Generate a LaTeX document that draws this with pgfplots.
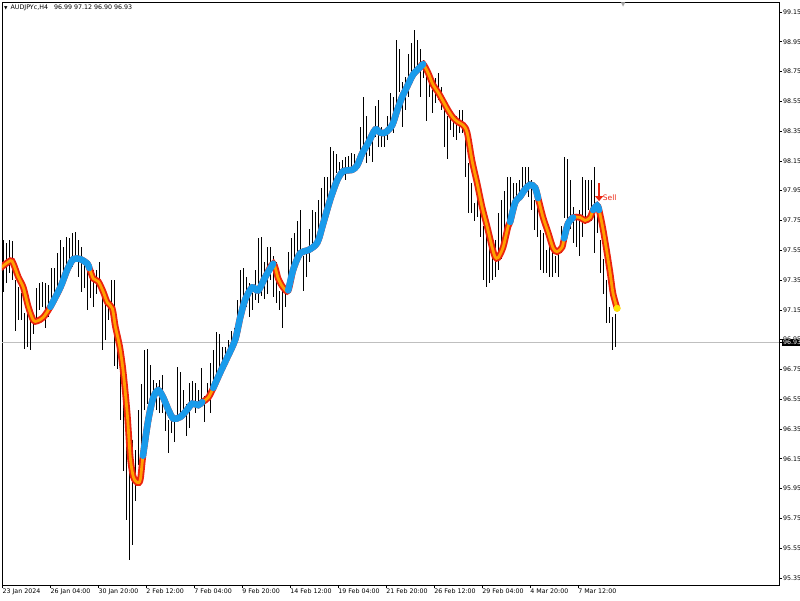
\documentclass[border=0pt]{standalone}
\usepackage{pgfplots}
\pgfplotsset{compat=1.18}
\usepackage{pgfplotstable}
\usepackage{fontspec}
\setmainfont{DejaVu Sans}
\usetikzlibrary{arrows.meta}

\definecolor{mtblue}{RGB}{25,155,235}
\definecolor{mtred}{RGB}{235,35,15}
\definecolor{mtorange}{RGB}{255,160,0}
\definecolor{mtyellow}{RGB}{255,230,0}

% H4 bars: index, low, high
\pgfplotstableread{
i lo hi
0 97.27 97.62
1 97.33 97.60
2 97.40 97.62
3 97.35 97.61
4 97.01 97.35
5 97.08 97.30
6 97.08 97.26
7 96.89 97.13
8 96.90 97.20
9 96.88 97.08
10 96.99 97.10
11 97.06 97.30
12 97.15 97.33
13 97.17 97.34
14 97.03 97.33
15 97.10 97.32
16 97.22 97.43
17 97.27 97.43
18 97.30 97.53
19 97.36 97.62
20 97.37 97.57
21 97.42 97.64
22 97.43 97.63
23 97.44 97.67
24 97.47 97.67
25 97.37 97.62
26 97.27 97.57
27 97.30 97.49
28 97.15 97.44
29 97.23 97.37
30 97.17 97.42
31 97.26 97.42
32 97.30 97.47
33 96.88 97.24
34 96.95 97.26
35 97.08 97.22
36 97.08 97.35
37 96.77 97.35
38 96.75 97.01
39 96.41 96.95
40 96.07 96.61
41 95.74 96.34
42 95.47 96.07
43 95.57 96.28
44 95.87 96.21
45 96.11 96.48
46 96.21 96.65
47 96.48 96.88
48 96.52 96.89
49 96.46 96.78
50 96.50 96.68
51 96.48 96.66
52 96.46 96.68
53 96.46 96.71
54 96.34 96.57
55 96.19 96.41
56 96.32 96.40
57 96.26 96.41
58 96.43 96.77
59 96.46 96.73
60 96.46 96.61
61 96.30 96.52
62 96.36 96.66
63 96.50 96.67
64 96.46 96.66
65 96.50 96.61
66 96.52 96.76
67 96.40 96.57
68 96.53 96.66
69 96.46 96.79
70 96.60 96.88
71 96.63 97.00
72 96.68 96.99
73 96.73 96.90
74 96.77 96.90
75 96.81 96.95
76 96.86 97.01
77 96.90 97.03
78 96.95 97.22
79 97.16 97.42
80 97.17 97.43
81 97.17 97.37
82 97.10 97.33
83 97.15 97.26
84 97.22 97.42
85 97.20 97.63
86 97.24 97.64
87 97.22 97.47
88 97.26 97.57
89 97.35 97.57
90 97.24 97.51
91 97.20 97.47
92 97.15 97.28
93 97.03 97.33
94 97.17 97.26
95 97.28 97.54
96 97.37 97.63
97 97.44 97.67
98 97.47 97.75
99 97.53 97.82
100 97.28 97.51
101 97.37 97.53
102 97.47 97.69
103 97.57 97.82
104 97.62 97.81
105 97.64 97.89
106 97.69 97.97
107 97.73 98.04
108 97.84 98.04
109 97.93 98.24
110 97.97 98.22
111 98.07 98.20
112 98.04 98.14
113 98.04 98.16
114 98.02 98.18
115 98.07 98.18
116 98.09 98.20
117 98.11 98.20
118 98.09 98.18
119 98.14 98.38
120 98.18 98.58
121 98.14 98.45
122 98.18 98.29
123 98.14 98.36
124 98.31 98.52
125 98.24 98.56
126 98.24 98.38
127 98.24 98.34
128 98.29 98.45
129 98.38 98.61
130 98.34 98.58
131 98.54 98.96
132 98.61 98.90
133 98.38 98.68
134 98.49 98.71
135 98.58 98.87
136 98.69 98.94
137 98.76 99.03
138 98.74 98.96
139 98.58 98.90
140 98.71 98.83
141 98.42 98.78
142 98.58 98.71
143 98.47 98.63
144 98.54 98.71
145 98.56 98.74
146 98.49 98.65
147 98.24 98.51
148 98.16 98.45
149 98.36 98.49
150 98.31 98.42
151 98.29 98.45
152 98.34 98.49
153 98.34 98.49
154 98.04 98.36
155 97.80 98.14
156 97.80 98.00
157 97.75 97.87
158 97.77 97.91
159 97.64 97.89
160 97.35 97.71
161 97.30 97.75
162 97.33 97.57
163 97.35 97.53
164 97.37 97.62
165 97.42 97.80
166 97.49 97.89
167 97.67 97.95
168 97.75 98.04
169 97.82 98.04
170 97.77 98.00
171 97.84 98.00
172 97.89 98.02
173 97.91 98.11
174 97.93 98.11
175 97.91 98.11
176 97.82 98.02
177 97.69 97.89
178 97.64 97.89
179 97.42 97.69
180 97.40 97.67
181 97.40 97.55
182 97.37 97.57
183 97.37 97.62
184 97.40 97.51
185 97.37 97.57
186 97.53 97.71
187 97.77 98.18
188 97.69 98.16
189 97.69 98.02
190 97.60 97.84
191 97.57 97.75
192 97.51 97.82
193 97.64 98.04
194 97.73 98.02
195 97.82 98.02
196 97.75 98.02
197 97.53 98.11
198 97.67 97.87
199 97.40 97.62
200 97.26 97.49
201 97.06 97.35
202 97.06 97.17
203 96.88 97.10
204 96.90 97.12
}\bars

% smoothed signal line
\pgfplotstableread{
i v
-1 97.43
2.33 97.48
3.33 97.46
5 97.37
6.67 97.30
8.33 97.17
10 97.08
11.33 97.075
13.33 97.10
15.67 97.17
19 97.30
21.33 97.42
23.33 97.49
25.67 97.49
28 97.46
28.67 97.43
30 97.36
31.67 97.34
33.33 97.27
34.67 97.20
36.33 97.16
37.33 97.04
38.33 96.95
39 96.88
40 96.73
41.33 96.45
42.33 96.16
43.33 96.03
44.67 95.99
45.67 96.01
46.57 96.17
48.33 96.41
50 96.56
51.67 96.61
53.33 96.56
55 96.48
56.67 96.42
59 96.43
61.33 96.48
63 96.52
65 96.51
66.33 96.53
68.33 96.56
70 96.625
72.33 96.73
74.67 96.83
77.33 96.95
79 97.10
80.67 97.22
83 97.30
85 97.28
87.33 97.37
90 97.46
91.67 97.36
93.33 97.30
95 97.28
96.67 97.42
99 97.53
101.67 97.55
104.67 97.60
106.67 97.73
109 97.89
111.33 98.02
113.33 98.08
116.33 98.09
118 98.12
119.67 98.20
121.67 98.27
124 98.36
125.67 98.34
127.33 98.34
129.67 98.39
131.33 98.49
133 98.58
134.67 98.65
136.67 98.73
139 98.78
140 98.80
141.67 98.74
143.33 98.66
145 98.61
146.67 98.55
148.33 98.49
150 98.44
151.67 98.41
153.33 98.39
154.67 98.34
156.33 98.15
158 98.00
159.67 97.84
161.33 97.71
163 97.57
164 97.505
165 97.50
166.67 97.57
168.33 97.71
169 97.74
170.67 97.87
172.33 97.91
174 97.96
175.67 97.99
177.33 97.97
178.33 97.90
180 97.77
181.67 97.67
183.33 97.565
184.67 97.54
186.33 97.57
187 97.63
188.33 97.73
190 97.77
192.33 97.77
194 97.75
195.67 97.77
196.67 97.82
198 97.85
198.67 97.82
200 97.69
201.33 97.53
202.33 97.40
203.33 97.26
204.67 97.16
}\sig

\pgfplotsset{
  upseg/.style={smooth, mtblue, line width=6.5pt, line cap=round, no marks,
    restrict x to domain=#1},
}

\begin{document}
\begin{tikzpicture}
\useasboundingbox (-2pt,-15pt) rectangle (798pt,585pt);
\begin{axis}[
  at={(0pt,0pt)}, anchor=south west,
  scale only axis, width=777pt, height=583pt,
  xmin=-0.45, xmax=258.67, ymin=95.302, ymax=99.217,
  axis line style={black, line width=0.8pt},
  tick align=outside, major tick length=3pt,
  tick style={black, line width=0.6pt},
  xtick pos=left, ytick pos=right, yticklabel pos=right,
  ytick={95.35,95.55,95.75,95.95,96.15,96.35,96.55,96.75,96.95,97.15,97.35,97.55,97.75,97.95,98.15,98.35,98.55,98.75,98.95,99.15},
  yticklabels={95.35,95.55,95.75,95.95,96.15,96.35,96.55,96.75,96.95,97.15,97.35,97.55,97.75,97.95,98.15,98.35,98.55,98.75,98.95,99.15},
  xtick={-0.33,15.67,31.67,47.67,63.67,79.67,95.67,111.67,127.67,143.67,159.67,175.67,191.67},
  xticklabels={23 Jan 2024,26 Jan 04:00,30 Jan 20:00,2 Feb 12:00,7 Feb 04:00,9 Feb 20:00,14 Feb 12:00,19 Feb 04:00,21 Feb 20:00,26 Feb 12:00,29 Feb 04:00,4 Mar 20:00,7 Mar 12:00},
  ticklabel style={font=\fontsize{6.3}{7}\selectfont, text=black},
  xticklabel style={anchor=north west, inner sep=0.5pt, xshift=-0.5pt},
  yticklabel style={anchor=west, inner sep=1pt},
  /pgf/number format/assume math mode=true,
  extra y ticks={96.93}, extra y tick labels={96.93},
  extra y tick style={grid=major, major grid style={black!25, line width=0.8pt},
    yticklabel style={fill=black, text=white, inner ysep=1.5pt}},
]
% OHLC bars (high-low range)
\addplot[draw=none, mark=none,
  error bars/.cd, y dir=both, y explicit, error mark=none,
  error bar style={draw=black, line width=1pt}]
  table[x=i, y expr=(\thisrow{lo}+\thisrow{hi})/2,
        y error expr=(\thisrow{hi}-\thisrow{lo})/2] {\bars};

% falling signal: red rim, orange core
\addplot[smooth, mtred, line width=6.5pt, line cap=round, no marks] table[x=i, y=v] {\sig};
\addplot[smooth, mtorange, line width=2.8pt, line cap=round, no marks] table[x=i, y=v] {\sig};

% rising signal segments
\addplot[upseg={15.6:28.7}] table[x=i, y=v] {\sig};
\addplot[upseg={46.5:66.4}] table[x=i, y=v] {\sig};
\addplot[upseg={69.9:90.1}] table[x=i, y=v] {\sig};
\addplot[upseg={94.9:140.1}] table[x=i, y=v] {\sig};
\addplot[upseg={168.9:178.4}] table[x=i, y=v] {\sig};
\addplot[upseg={186.9:190.1}] table[x=i, y=v] {\sig};
\addplot[upseg={196.6:198.7}] table[x=i, y=v] {\sig};

% last value
\addplot[only marks, mark=*, mark size=3.3pt, mtyellow, draw=mtyellow] coordinates {(204.67,97.16)};

% sell signal
\draw[mtred, line width=2.4pt, -{Triangle[width=8pt,length=5pt]}] (axis cs:198.67,98.00) -- (axis cs:198.67,97.88);
\node[anchor=west, inner sep=0, text=mtred, font=\fontsize{7.5}{8}\selectfont] at (axis cs:199.9,97.90) {Sell};

% header and chart shift marker
\node[anchor=west, inner sep=0, font=\fontsize{6.3}{7}\selectfont] at (rel axis cs:0,1) [xshift=2pt, yshift=-6pt]
  {{\fontsize{4.5}{5}\selectfont ▼}\hspace{3pt}AUDJPYc,H4\hspace{6pt}96.99 97.12 96.90 96.93};
\node[anchor=north, inner sep=0, text=black!35, font=\fontsize{6}{6}\selectfont] at (axis cs:206.67,99.217) {▼};
\end{axis}
\end{tikzpicture}
\end{document}
